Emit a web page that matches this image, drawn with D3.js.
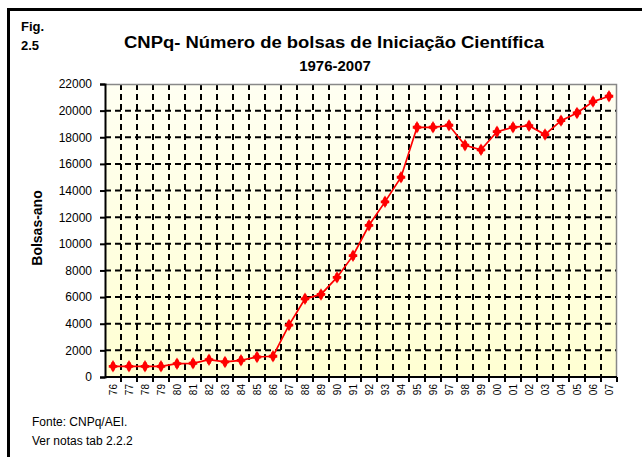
<!DOCTYPE html>
<html>
<head>
<meta charset="utf-8">
<script src="https://cdn.jsdelivr.net/npm/d3@7"></script>
<style>
  body { margin: 0; background: #fff; }
  svg { display: block; }
  text { font-family: "Liberation Sans", Arial, sans-serif; }
</style>
</head>
<body>
<div id="chart"></div>
<script>
const years = ["76","77","78","79","80","81","82","83","84","85","86","87","88","89","90","91",
  "92","93","94","95","96","97","98","99","00","01","02","03","04","05","06","07"];
const bolsas = [800, 800, 800, 800, 1000, 1030, 1300, 1130, 1250, 1500, 1560, 3900, 5870, 6200,
  7480, 9110, 11390, 13150, 15000, 18750, 18750, 18900, 17400, 17060, 18420, 18750, 18870,
  18200, 19250, 19820, 20680, 21080];
const yTicks = d3.range(0, 22001, 2000);

const W = 642, H = 457;
const margin = {top: 84, right: 25, bottom: 80, left: 105};
const width = W - margin.left - margin.right;
const height = H - margin.top - margin.bottom;

const svg = d3.select("#chart").append("svg")
  .attr("width", W)
  .attr("height", H);

// frame
svg.append("line").attr("x1", 7).attr("x2", W).attr("y1", 9.5).attr("y2", 9.5)
  .style("stroke", "#000").style("stroke-width", 3);
svg.append("line").attr("x1", 8.5).attr("x2", 8.5).attr("y1", 8).attr("y2", H)
  .style("stroke", "#000").style("stroke-width", 3);

svg.append("text").attr("x", 21).attr("y", 31).text("Fig.")
  .style("font-weight", "bold").style("font-size", "13px");
svg.append("text").attr("x", 21).attr("y", 50).text("2.5")
  .style("font-weight", "bold").style("font-size", "13px");

svg.append("text").attr("x", 334).attr("y", 48).attr("text-anchor", "middle")
  .attr("textLength", 420).attr("lengthAdjust", "spacingAndGlyphs")
  .text("CNPq- Número de bolsas de Iniciação Científica")
  .style("font-weight", "bold").style("font-size", "16px");
svg.append("text").attr("x", 335).attr("y", 71).attr("text-anchor", "middle")
  .text("1976-2007")
  .style("font-weight", "bold").style("font-size", "15px");

const defs = svg.append("defs");
const grad = defs.append("linearGradient").attr("id", "bg")
  .attr("x1", 0).attr("y1", 0).attr("x2", 0).attr("y2", 1);
grad.append("stop").attr("offset", "0%").attr("stop-color", "#fffff2");
grad.append("stop").attr("offset", "100%").attr("stop-color", "#ffffd2");

const g = svg.append("g")
  .attr("transform", "translate(" + margin.left + "," + margin.top + ")");

const x = d3.scaleBand()
  .domain(years)
  .range([0, width]);

const y = d3.scaleLinear()
  .domain([0, 22000])
  .range([height, 0]);

g.append("rect")
  .attr("width", width)
  .attr("height", height)
  .style("fill", "url(#bg)");

// grid
g.append("g")
  .attr("class", "hgrid")
  .selectAll("line")
  .data(yTicks.slice(1, -1))
  .enter().append("line")
  .attr("x1", 0).attr("x2", width)
  .attr("y1", d => y(d)).attr("y2", d => y(d))
  .style("stroke", "#000").style("stroke-width", 2)
  .style("stroke-dasharray", "6,4");

g.append("g")
  .attr("class", "vgrid")
  .selectAll("line")
  .data(years.slice(1))
  .enter().append("line")
  .attr("x1", d => x(d)).attr("x2", d => x(d))
  .attr("y1", 0).attr("y2", height)
  .style("stroke", "#000").style("stroke-width", 2)
  .style("stroke-dasharray", "6,4");

// plot border top/right
g.append("path")
  .attr("d", "M0,0.5H" + (width - 0.5) + "V" + height)
  .style("fill", "none").style("stroke", "#888").style("stroke-width", 1.5);

// axes
const yAxis = d3.axisLeft(y).tickValues(yTicks).tickSize(5).tickFormat(d3.format("d"));
const ya = g.append("g").attr("class", "y axis").call(yAxis);
ya.select(".domain").style("stroke-width", 2);
ya.selectAll(".tick line").style("stroke-width", 2);
ya.selectAll(".tick text").attr("x", -13)
  .style("font-size", "12px").style("font-family", "'Liberation Sans', Arial, sans-serif");

const xa = g.append("g")
  .attr("class", "x axis")
  .attr("transform", "translate(0," + height + ")");
xa.append("line").attr("x1", 0).attr("x2", width)
  .style("stroke", "#000").style("stroke-width", 2);
xa.selectAll(".xt")
  .data(years.slice(1).concat(["end"]))
  .enter().append("line")
  .attr("x1", (d, i) => i < years.length - 1 ? x(d) : width)
  .attr("x2", (d, i) => i < years.length - 1 ? x(d) : width)
  .attr("y1", 0).attr("y2", 5)
  .style("stroke", "#000").style("stroke-width", 2);
xa.selectAll("text")
  .data(years)
  .enter().append("text")
  .attr("transform", d => "translate(" + (x(d) + x.bandwidth() / 2 + 3.5) + ",7) rotate(-90)")
  .attr("text-anchor", "end")
  .text(d => d)
  .style("font-size", "10px");

svg.append("text")
  .attr("transform", "translate(42,228) rotate(-90)")
  .attr("text-anchor", "middle")
  .text("Bolsas-ano")
  .style("font-weight", "bold").style("font-size", "14px");

// series
const line = d3.line()
  .x((d, i) => x(years[i]) + x.bandwidth() / 2)
  .y(d => y(d));

g.append("path")
  .datum(bolsas)
  .attr("d", line)
  .style("fill", "none").style("stroke", "#ff0000").style("stroke-width", 1.7);

const marks = g.append("g").attr("class", "marks")
  .selectAll("g")
  .data(bolsas)
  .enter().append("g")
  .attr("transform", (d, i) => "translate(" + (x(years[i]) + x.bandwidth() / 2) + "," + y(d) + ")");
marks.append("path")
  .attr("d", d3.symbol(d3.symbolDiamond, 45))
  .style("fill", "#ff0000");
marks.append("path")
  .attr("d", d3.symbol(d3.symbolCross, 40))
  .style("fill", "#ff0000");

svg.append("text").attr("x", 32).attr("y", 426).text("Fonte: CNPq/AEI.")
  .style("font-size", "12px");
svg.append("text").attr("x", 32).attr("y", 445).text("Ver notas tab 2.2.2")
  .style("font-size", "12px");
</script>
</body>
</html>
